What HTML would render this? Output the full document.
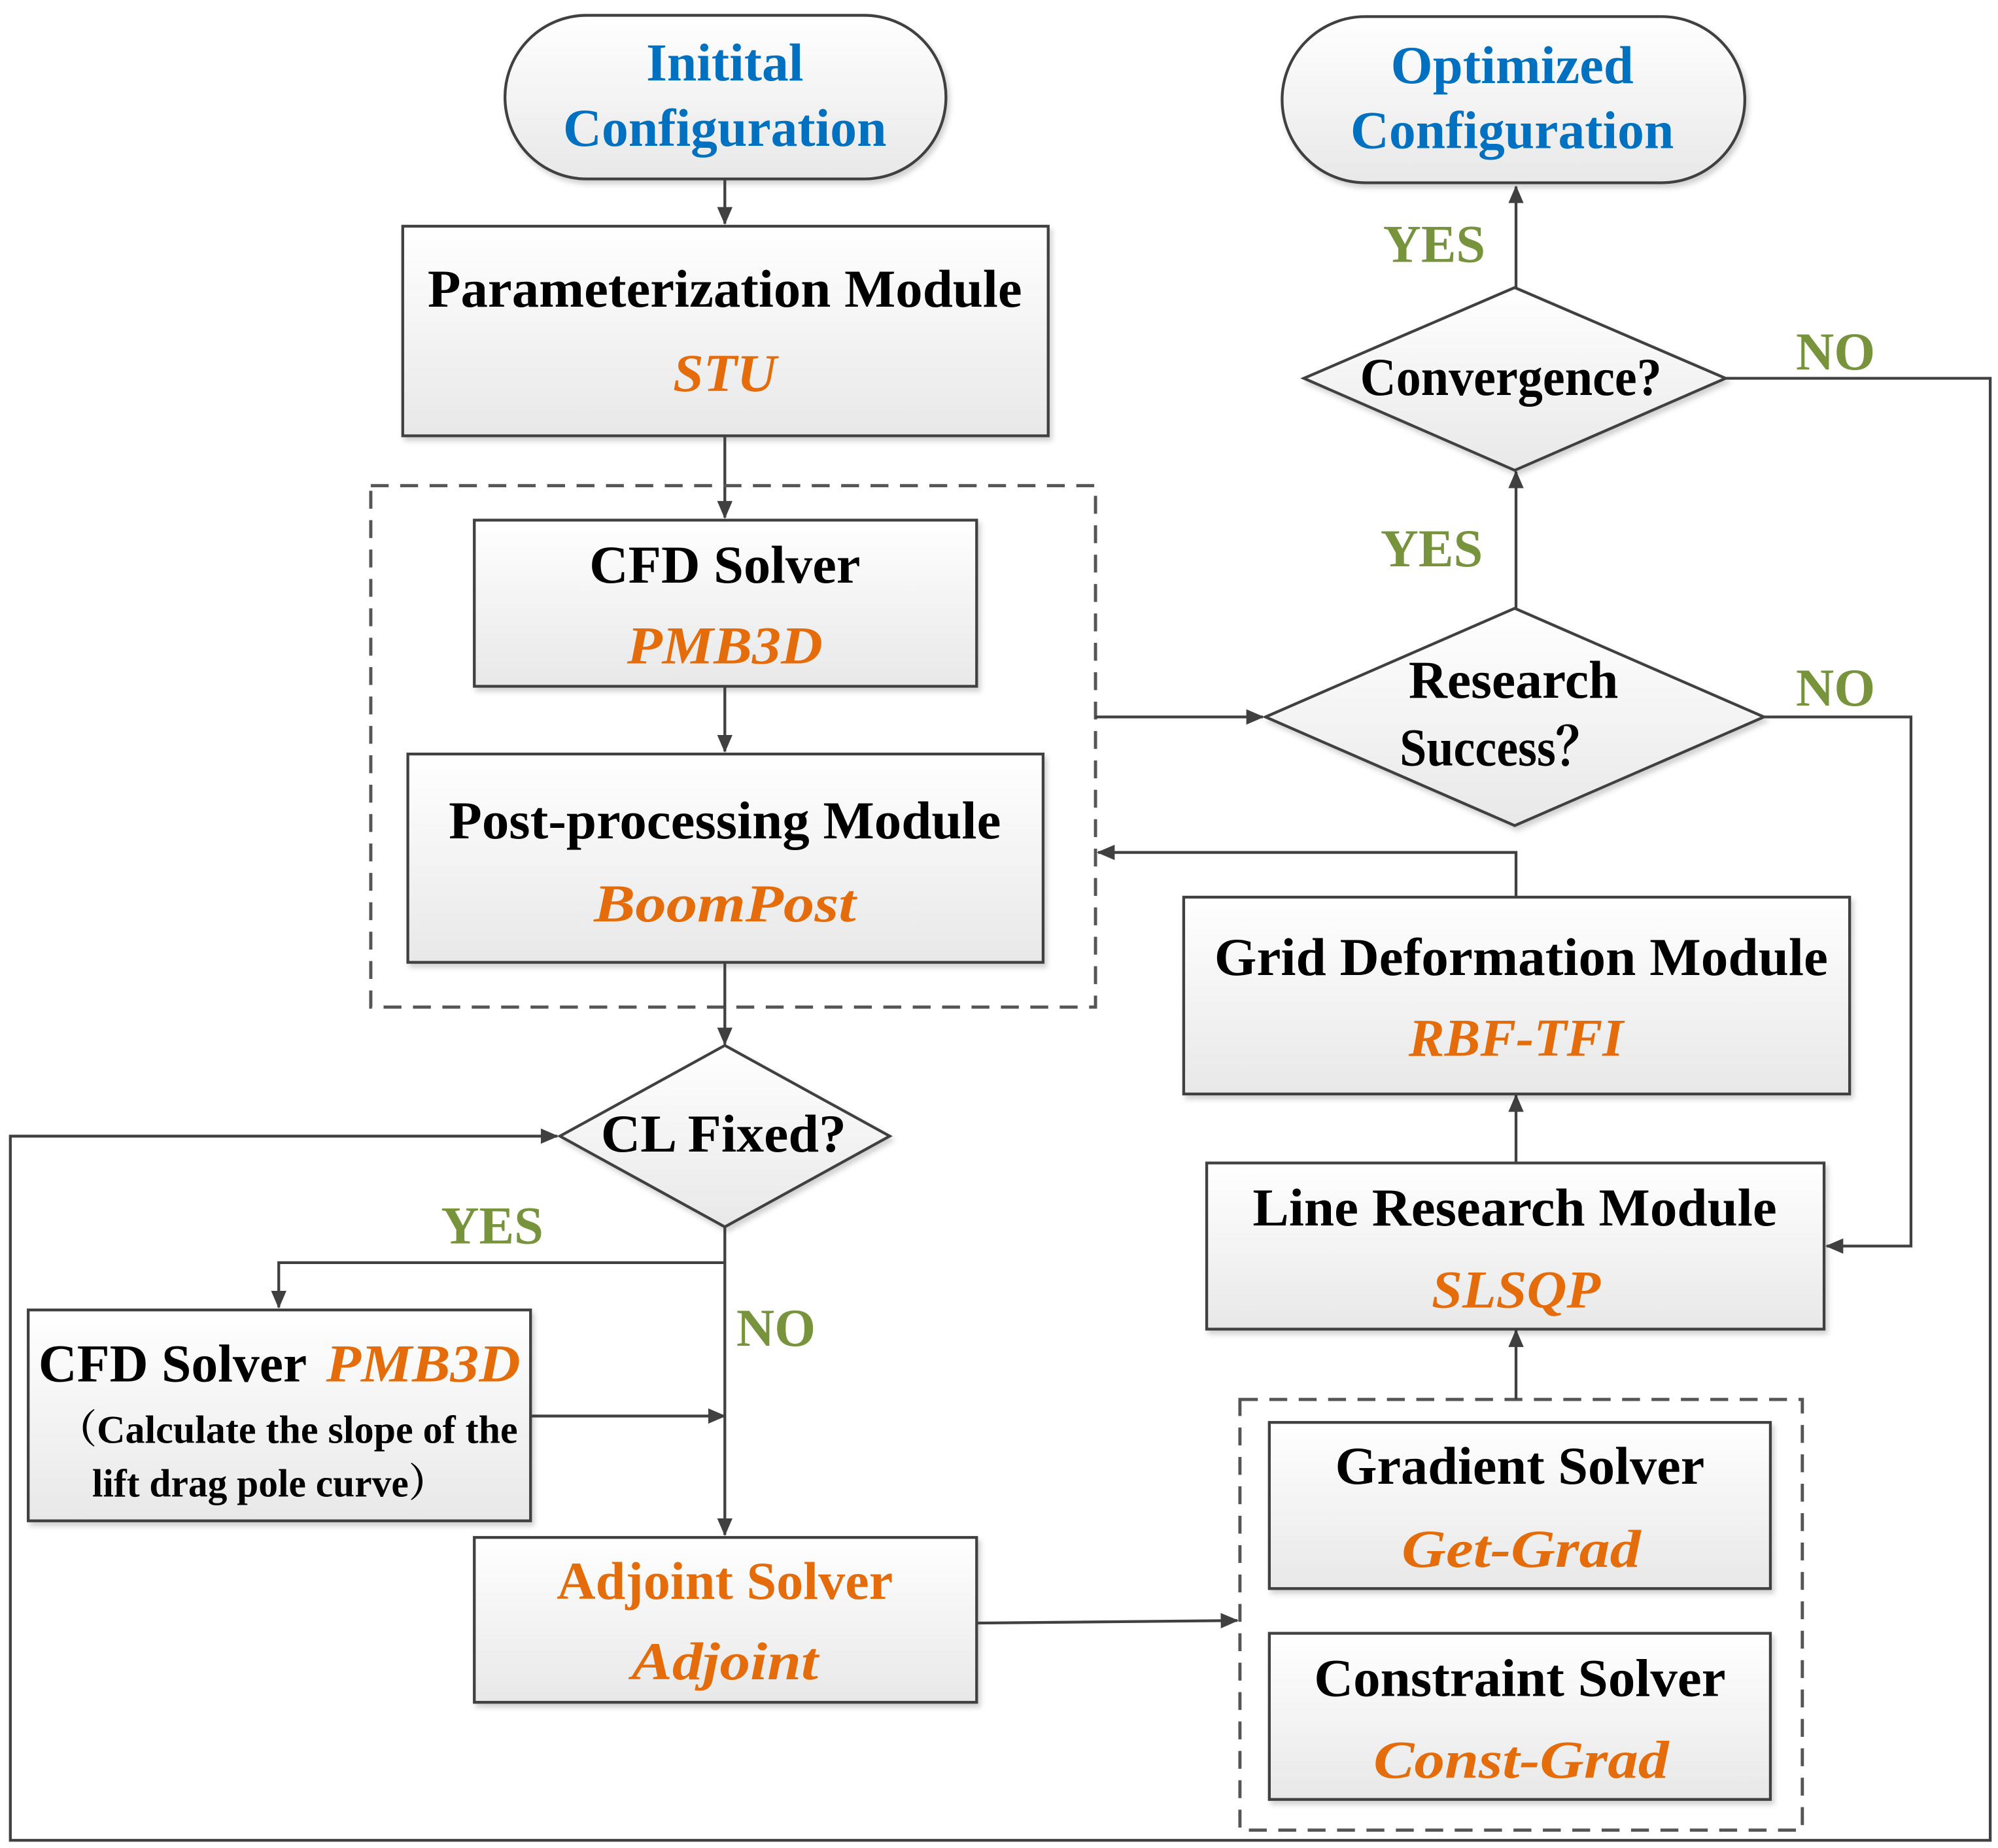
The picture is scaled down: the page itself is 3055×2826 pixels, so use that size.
<!DOCTYPE html>
<html><head><meta charset="utf-8"><style>
html,body{margin:0;padding:0;background:#fff}
svg{display:block}
text{font-family:"Liberation Serif","Noto Serif CJK SC",serif;font-weight:bold;text-anchor:middle}
.k{fill:#000;font-size:42px}
.o{fill:#e46c0a;font-size:42px;font-style:italic}
.b{fill:#0070c0;font-size:42px}
.g{fill:#77933c;font-size:42px}
.ln{stroke:#404040;stroke-width:2.2;fill:none}
.bx{fill:url(#gr);stroke:#404040;stroke-width:2.2;filter:url(#sh)}
.ds{fill:none;stroke:#555;stroke-width:2.5;stroke-dasharray:14,9}
</style></head><body>
<svg width="3055" height="2826" viewBox="0 0 1563 1446" xmlns="http://www.w3.org/2000/svg">
<defs>
<linearGradient id="gr" x1="0" y1="0" x2="0" y2="1"><stop offset="0" stop-color="#ffffff"/><stop offset="1" stop-color="#e8e8e8"/></linearGradient>
<filter id="sh" x="-5%" y="-5%" width="115%" height="120%"><feDropShadow dx="2" dy="3" stdDeviation="2" flood-color="#000" flood-opacity="0.18"/></filter>
<marker id="a" markerWidth="14" markerHeight="12" refX="13" refY="6" orient="auto" markerUnits="userSpaceOnUse"><path d="M0,0 L14,6 L0,12 Z" fill="#404040"/></marker>
</defs>
<rect width="1563" height="1446" fill="#fff"/>

<rect class="bx" x="395" y="12" width="345" height="128" rx="64"/>
<text class="b" x="567" y="63" textLength="123" lengthAdjust="spacingAndGlyphs">Initital</text>
<text class="b" x="567" y="114" textLength="253" lengthAdjust="spacingAndGlyphs">Configuration</text>
<rect class="bx" x="1003" y="13" width="362" height="130" rx="65"/>
<text class="b" x="1183" y="65" textLength="190" lengthAdjust="spacingAndGlyphs">Optimized</text>
<text class="b" x="1183" y="116" textLength="253" lengthAdjust="spacingAndGlyphs">Configuration</text>

<line class="ln" x1="567" y1="140" x2="567" y2="175" marker-end="url(#a)"/>
<rect class="bx" x="315" y="177" width="505" height="164"/>
<text class="k" x="567" y="240" textLength="465" lengthAdjust="spacingAndGlyphs">Parameterization Module</text>
<text class="o" x="567" y="306" textLength="81" lengthAdjust="spacingAndGlyphs">STU</text>
<line class="ln" x1="567" y1="341" x2="567" y2="405" marker-end="url(#a)"/>
<rect class="ds" x="290" y="380" width="567" height="408"/>
<rect class="bx" x="371" y="407" width="393" height="130"/>
<text class="k" x="567" y="456" textLength="212" lengthAdjust="spacingAndGlyphs">CFD Solver</text>
<text class="o" x="567" y="519" textLength="153" lengthAdjust="spacingAndGlyphs">PMB3D</text>
<line class="ln" x1="567" y1="537" x2="567" y2="588" marker-end="url(#a)"/>
<rect class="bx" x="319" y="590" width="497" height="163"/>
<text class="k" x="567" y="656" textLength="432" lengthAdjust="spacingAndGlyphs">Post-processing Module</text>
<text class="o" x="567" y="721" textLength="205" lengthAdjust="spacingAndGlyphs">BoomPost</text>
<line class="ln" x1="567" y1="753" x2="567" y2="817" marker-end="url(#a)"/>

<polygon class="bx" points="567,818 696,889 567,960 438,889"/>
<text class="k" x="566" y="901" textLength="192" lengthAdjust="spacingAndGlyphs">CL Fixed?</text>
<polyline class="ln" points="1350,296 1557,296 1557,1440 8,1440 8,889 436,889" marker-end="url(#a)"/>
<polyline class="ln" points="567,988 218,988 218,1023" marker-end="url(#a)"/>
<text class="g" x="385" y="973" textLength="80" lengthAdjust="spacingAndGlyphs">YES</text>
<line class="ln" x1="567" y1="960" x2="567" y2="1201" marker-end="url(#a)"/>
<text class="g" x="607" y="1053" textLength="62" lengthAdjust="spacingAndGlyphs">NO</text>

<rect class="bx" x="22" y="1025" width="393" height="165"/>
<text class="k" x="135" y="1081" textLength="210" lengthAdjust="spacingAndGlyphs">CFD Solver</text>
<text class="o" x="331" y="1081" textLength="152" lengthAdjust="spacingAndGlyphs">PMB3D</text>
<text class="k" x="225" y="1129" style="font-size:31px" textLength="360" lengthAdjust="spacingAndGlyphs">（Calculate the slope of the</text>
<text class="k" x="211" y="1171" style="font-size:31px" textLength="278" lengthAdjust="spacingAndGlyphs">lift drag pole curve）</text>
<line class="ln" x1="415" y1="1108" x2="567" y2="1108" marker-end="url(#a)"/>

<rect class="bx" x="371" y="1203" width="393" height="129"/>
<text class="o" x="567" y="1251" style="font-style:normal" textLength="263" lengthAdjust="spacingAndGlyphs">Adjoint Solver</text>
<text class="o" x="567" y="1314" textLength="146" lengthAdjust="spacingAndGlyphs">Adjoint</text>
<line class="ln" x1="764" y1="1270" x2="968" y2="1268" marker-end="url(#a)"/>

<rect class="ds" x="970" y="1095" width="440" height="337"/>
<rect class="bx" x="993" y="1113" width="392" height="130"/>
<text class="k" x="1189" y="1161" textLength="289" lengthAdjust="spacingAndGlyphs">Gradient Solver</text>
<text class="o" x="1190" y="1226" textLength="187" lengthAdjust="spacingAndGlyphs">Get-Grad</text>
<rect class="bx" x="993" y="1278" width="392" height="130"/>
<text class="k" x="1189" y="1327" textLength="322" lengthAdjust="spacingAndGlyphs">Constraint Solver</text>
<text class="o" x="1190" y="1391" textLength="231" lengthAdjust="spacingAndGlyphs">Const-Grad</text>
<line class="ln" x1="1186" y1="1095" x2="1186" y2="1041" marker-end="url(#a)"/>

<rect class="bx" x="944" y="910" width="483" height="130"/>
<text class="k" x="1185" y="959" textLength="410" lengthAdjust="spacingAndGlyphs">Line Research Module</text>
<text class="o" x="1186" y="1023" textLength="132" lengthAdjust="spacingAndGlyphs">SLSQP</text>
<line class="ln" x1="1186" y1="910" x2="1186" y2="857" marker-end="url(#a)"/>

<rect class="bx" x="926" y="702" width="521" height="154"/>
<text class="k" x="1190" y="763" textLength="480" lengthAdjust="spacingAndGlyphs">Grid Deformation Module</text>
<text class="o" x="1186" y="826" textLength="168" lengthAdjust="spacingAndGlyphs">RBF-TFI</text>
<polyline class="ln" points="1186,702 1186,667 859,667" marker-end="url(#a)"/>

<line class="ln" x1="857" y1="561" x2="988" y2="561" marker-end="url(#a)"/>
<polygon class="bx" points="1185,476 1380,561 1185,646 990,561"/>
<text class="k" x="1184" y="546" textLength="164" lengthAdjust="spacingAndGlyphs">Research</text>
<text class="k" x="1175" y="599" textLength="160" lengthAdjust="spacingAndGlyphs">Success？</text>
<polyline class="ln" points="1380,561 1495,561 1495,975 1429,975" marker-end="url(#a)"/>
<text class="g" x="1436" y="552" textLength="62" lengthAdjust="spacingAndGlyphs">NO</text>
<line class="ln" x1="1186" y1="476" x2="1186" y2="369" marker-end="url(#a)"/>
<text class="g" x="1120" y="443" textLength="80" lengthAdjust="spacingAndGlyphs">YES</text>

<polygon class="bx" points="1185,225 1350,296 1185,368 1020,296"/>
<text class="k" x="1182" y="309" textLength="236" lengthAdjust="spacingAndGlyphs">Convergence?</text>
<line class="ln" x1="1186" y1="225" x2="1186" y2="146" marker-end="url(#a)"/>
<text class="g" x="1122" y="205" textLength="80" lengthAdjust="spacingAndGlyphs">YES</text>
<text class="g" x="1436" y="289" textLength="62" lengthAdjust="spacingAndGlyphs">NO</text>
</svg>
</body></html>
